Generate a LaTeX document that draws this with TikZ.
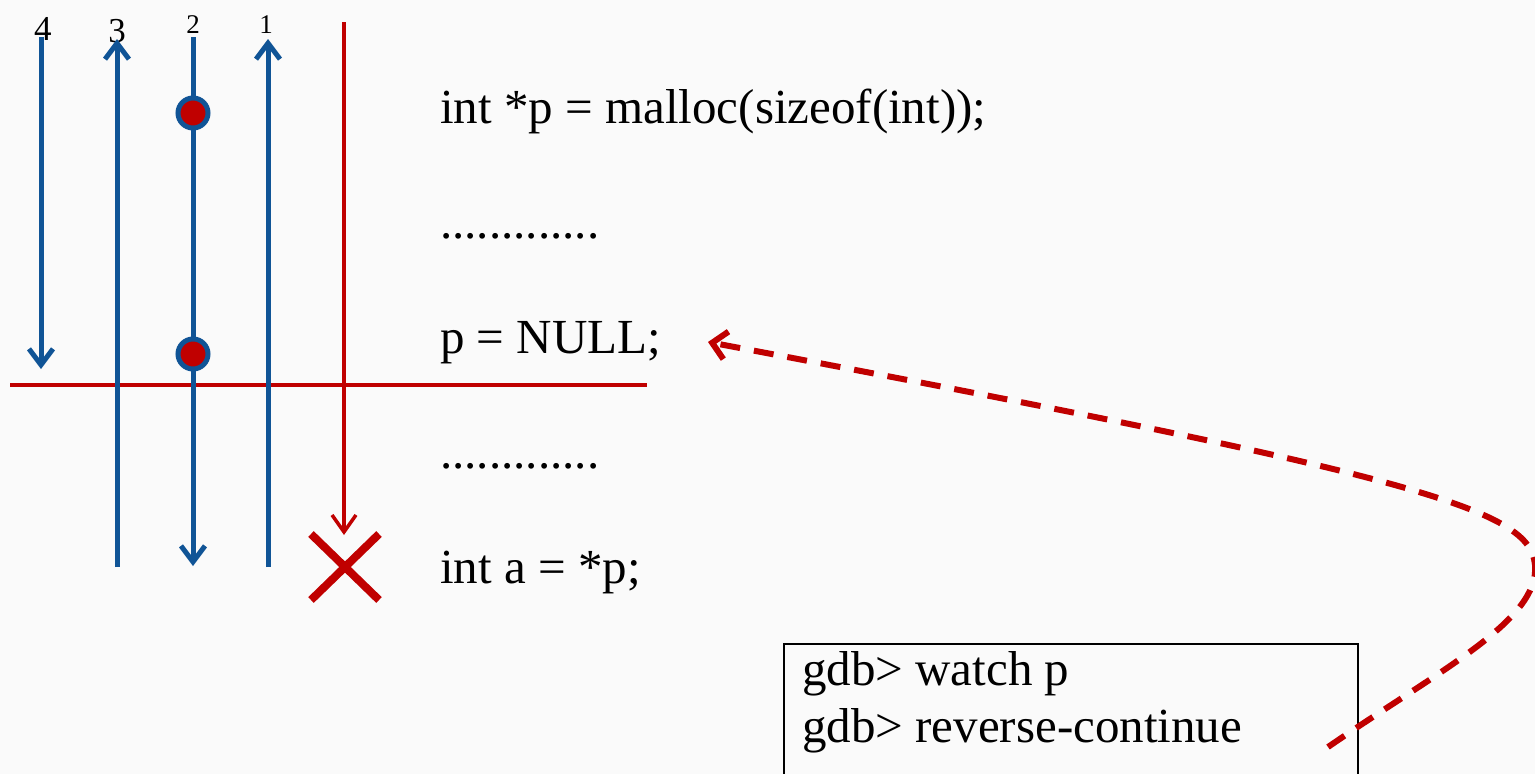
\documentclass[tikz,border=0pt]{standalone}
\usepackage{fontspec}
\setmainfont{Liberation Serif}
\usetikzlibrary{arrows.meta,shapes.misc}

\definecolor{flowblue}{RGB}{16,84,150}
\definecolor{stopred}{RGB}{192,0,0}
\definecolor{paper}{RGB}{250,250,250}

\begin{document}
\begin{tikzpicture}[x=1pt,y=-1pt,
  code/.style={anchor=base west, inner sep=0pt, font=\fontsize{49}{57}\selectfont},
  % run numbers in old-style proportions: short 1 and 2, descending 3 and 4
  tallno/.style={anchor=base, inner sep=0pt, font=\fontsize{35}{40}\selectfont},
  shortno/.style={anchor=base, inner sep=0pt, font=\fontsize{27}{30}\selectfont},
  run/.style={draw=flowblue, line width=5pt,
    -{Straight Barb[length=16pt,width=24pt]}},
  rewind/.style={draw=stopred, line width=3.5pt,
    -{Straight Barb[length=17pt,width=24pt]}},
  hit/.style={circle, fill=stopred, draw=flowblue, line width=5pt,
    minimum size=30pt, inner sep=0pt},
  hint/.style={draw=stopred, line width=6pt, dash pattern=on 20pt off 14pt,
    -{Straight Barb[length=14pt,width=28pt]}}
]
\fill[paper] (0,0) rectangle (1535,774);
\useasboundingbox (0,0) rectangle (1535,774);
\clip (0,0) rectangle (1535,774);

% run numbers
\node[tallno]  (n4) at (43,40)  {4};
\node[tallno]  (n3) at (117,42) {3};
\node[shortno] (n2) at (193,33) {2};
\node[shortno] (n1) at (266,33) {1};

% end points of the runs
\coordinate (r4a) at (41,37);   \coordinate (r4b) at (41,369);
\coordinate (r3a) at (117,567); \coordinate (r3b) at (117,39);
\coordinate (r2a) at (193,37);  \coordinate (r2b) at (193,566);
\coordinate (r1a) at (268,567); \coordinate (r1b) at (268,39);
\coordinate (fa)  at (344,22);  \coordinate (fb)  at (344,535);
\coordinate (wl)  at (10,385);  \coordinate (wr)  at (647,385);

% watchpoint line
\draw[stopred, line width=4pt] (wl) -- (wr);

% runs
\draw[run] (r4a) -- (r4b);
\draw[run] (r3a) -- (r3b);
\draw[run] (r2a) -- (r2b);
\draw[run] (r1a) -- (r1b);
\draw[rewind] (fa) -- (fb);

% breakpoint hits on run 2
\node[hit] (hit1) at (193,113) {};
\node[hit] (hit2) at (193,354) {};

% crash
\node[cross out, draw=stopred, line width=8pt, minimum width=60pt,
  minimum height=58pt, inner sep=0pt] (crash) at (345,567) {};

% source lines
\node[code] (src1) at (440,123) {int *p = malloc(sizeof(int));};
\node[code] (src2) at (440,238) {.............};
\node[code] (src3) at (440,353) {p = NULL;};
\node[code] (src4) at (440,468) {.............};
\node[code] (src5) at (440,583) {int a = *p;};

% gdb commands
\node[draw=black, line width=2pt, anchor=north west, minimum width=574pt,
  minimum height=160pt, inner sep=0pt] (gdbbox) at (783,643) {};
\node[code] (cmd1) at (802,685) {gdb> watch p};
\node[code] (cmd2) at (802,742) {gdb> reverse-continue};

% reverse-continue stops at the assignment
\coordinate (cmdend) at (1328,747);
\coordinate (bend) at (1535,565);
\coordinate (nulltip) at (708,342);
\draw[hint] (cmdend) .. controls (1440,670) and (1540,620) .. (bend)
  .. controls (1530,510) and (1430,478) .. (nulltip);
\end{tikzpicture}
\end{document}
